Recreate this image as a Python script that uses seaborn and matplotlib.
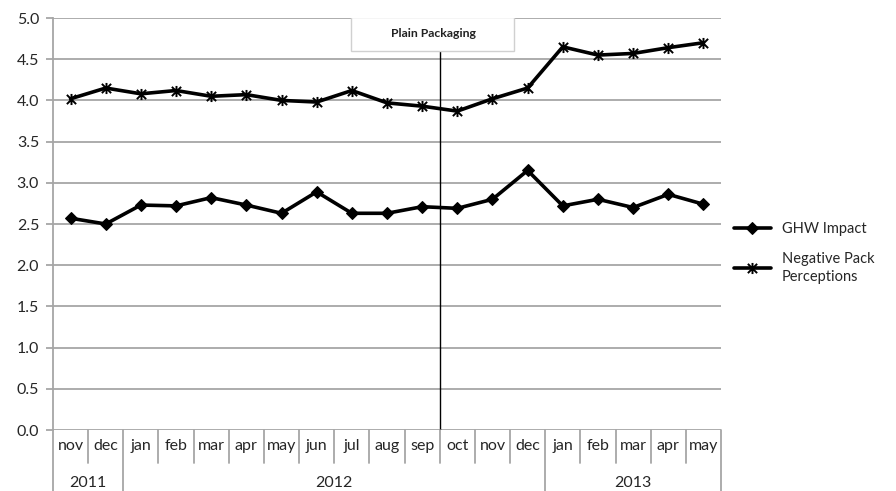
import matplotlib
matplotlib.use("Agg")
import matplotlib.pyplot as plt
import matplotlib.transforms as mtransforms
from matplotlib.patches import Rectangle
from matplotlib.path import Path
import numpy as np
import seaborn as sns

months = ["nov", "dec", "jan", "feb", "mar", "apr", "may", "jun", "jul", "aug",
          "sep", "oct", "nov", "dec", "jan", "feb", "mar", "apr", "may"]
years = ["2011", "2012", "2013"]
year_spans = [(0, 1), (2, 13), (14, 18)]
ghw_impact = [2.57, 2.50, 2.73, 2.72, 2.82, 2.73, 2.63, 2.89, 2.63, 2.63,
              2.71, 2.69, 2.80, 3.15, 2.72, 2.80, 2.70, 2.86, 2.74]
neg_pack = [4.02, 4.15, 4.08, 4.12, 4.05, 4.07, 4.00, 3.98, 4.12, 3.97,
            3.93, 3.87, 4.02, 4.15, 4.65, 4.55, 4.57, 4.64, 4.70]
event_after = 10  # plain packaging line sits between sep and oct 2012

sns.set_theme(style="white")
plt.rcParams["font.family"] = ["Lato", "DejaVu Sans"]

# excel-style asterisk: an x with a vertical bar through it
star = Path([(-1, -1), (1, 1), (-1, 1), (1, -1), (0, -1.2), (0, 1.2)],
            [Path.MOVETO, Path.LINETO] * 3)

idx = np.arange(len(months))

fig = plt.figure(figsize=(8.96, 4.91), dpi=100)
ax = fig.add_axes([53 / 896, 61 / 491, 668 / 896, 412 / 491])

sns.lineplot(x=idx, y=ghw_impact, color="black", marker="D", linewidth=2.6,
             markersize=6.5, markeredgecolor="black", label="GHW Impact", ax=ax)
sns.lineplot(x=idx, y=neg_pack, color="black", marker=star, linewidth=2.6,
             markersize=8, markeredgewidth=1.4, markeredgecolor="black",
             label="Negative Pack\nPerceptions", ax=ax)

ax.set_xlim(-0.5, len(months) - 0.5)
ax.set_ylim(0, 5)
ax.set_yticks(np.arange(0, 5.01, 0.5))
ax.set_yticklabels([f"{v:.1f}" for v in np.arange(0, 5.01, 0.5)], fontsize=11.5)
ax.yaxis.grid(True, color="#a6a6a6", linewidth=1.3)
ax.set_axisbelow(True)
ax.set_xticks([])
for s in ["top", "right", "bottom"]:
    ax.spines[s].set_visible(False)
ax.spines["left"].set_color("#a6a6a6")
ax.spines["left"].set_linewidth(1.3)
ax.tick_params(axis="y", left=True, direction="out", length=5,
               color="#a6a6a6", width=1.3, pad=5)

# plain packaging marker
ax.axvline(event_after + 0.5, ymin=0, ymax=4.61 / 5, color="black", linewidth=1)
ax.add_patch(Rectangle((7.99, 4.60), 4.63, 0.41, facecolor="white",
                       edgecolor="#d0d0d0", linewidth=1, zorder=3))
ax.text(10.31, 4.81, "Plain Packaging", ha="center", va="center",
        fontsize=8.8, fontweight="bold", color="#222222", zorder=4)

# two-level category axis
trans = mtransforms.blended_transform_factory(ax.transData, ax.transAxes)
row1 = -33 / 412
row2 = -61 / 412
starts = [s for s, _ in year_spans] + [len(months)]
for i, m in enumerate(months):
    ax.text(i, -16 / 412, m, transform=trans, ha="center", va="center", fontsize=11.5)
for b in range(len(months) + 1):
    y_end = row2 if b in starts else row1
    ax.plot([b - 0.5, b - 0.5], [0, y_end], transform=trans, color="#a6a6a6",
            linewidth=1.3, clip_on=False)
for label, (s, e) in zip(years, year_spans):
    ax.text((s + e) / 2, -53 / 412, label, transform=trans, ha="center",
            va="center", fontsize=11.5)

leg = ax.legend(loc="center left", bbox_to_anchor=(1.0, 0.43),
                frameon=False, fontsize=10.5, handlelength=2.5,
                handletextpad=0.75, labelspacing=1.1)
for t in leg.get_texts():
    t.set_linespacing(1.35)

fig.savefig("out.png", dpi=100)
